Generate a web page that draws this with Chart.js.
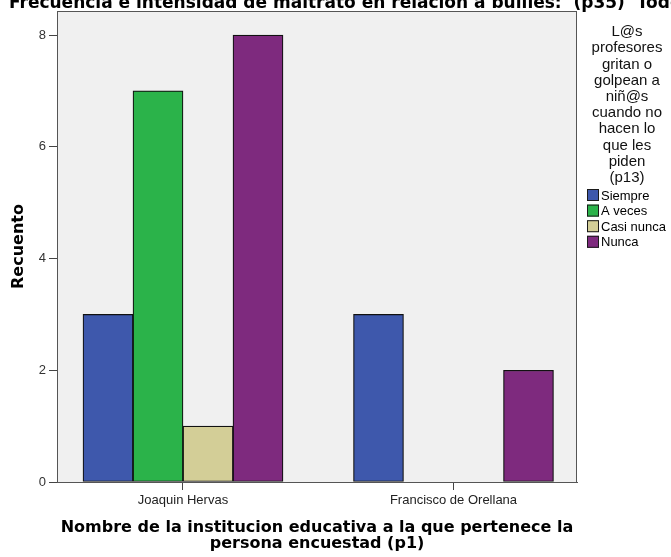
<!DOCTYPE html>
<html>
<head>
<meta charset="utf-8">
<script src="https://cdn.jsdelivr.net/npm/chart.js@4"></script>
<style>
  html, body { margin: 0; padding: 0; background: #fff; }
  #wrap { width: 671px; height: 557px; position: relative; }
</style>
</head>
<body>
<div id="wrap"><canvas id="chart"></canvas></div>
<script>
const chartTitle = 'Frecuencia e intensidad de maltrato en relación a bullies:  (p35)  Todos';
const categories = ['Joaquin Hervas', 'Francisco de Orellana'];
const seriesNames = ['Siempre', 'A veces', 'Casi nunca', 'Nunca'];
const siempre = [3, 3];
const aVeces = [7, 0];
const casiNunca = [1, 0];
const nunca = [8, 2];
const yTicks = [0, 2, 4, 6, 8];
const legendTitle = ['L@s', 'profesores', 'gritan o', 'golpean a', 'niñ@s', 'cuando no', 'hacen lo', 'que les', 'piden', '(p13)'];
const xTitle = ['Nombre de la institucion educativa a la que pertenece la', 'persona encuestad (p1)'];
const yTitle = 'Recuento';

const colors = ['#3e58ac', '#2bb34a', '#d3ce97', '#7e2a7e'];
const FONT = 'Arial, "Liberation Sans", sans-serif';
const BOLD = '"DejaVu Sans", Verdana, sans-serif';

// SPSS leaves empty groups blank, so zero counts become null
const toPoints = arr => arr.map((v, i) => ({ x: i, y: v === 0 ? null : v }));
const allSeries = [siempre, aVeces, casiNunca, nunca];

const datasets = allSeries.map((arr, k) => ({
  label: seriesNames[k],
  data: toPoints(arr),
  backgroundColor: colors[k],
  borderColor: '#111',
  borderWidth: 1.2,
  borderSkipped: false,
  barThickness: 50
}));

// plot frame + grey background
const framePlugin = {
  id: 'frame',
  beforeDatasetsDraw(chart) {
    const { ctx, chartArea: a } = chart;
    ctx.save();
    ctx.fillStyle = '#f0f0f0';
    ctx.fillRect(a.left, a.top, a.right - a.left, a.bottom - a.top);
    ctx.restore();
  },
  afterDatasetsDraw(chart) {
    const { ctx, chartArea: a } = chart;
    ctx.save();
    ctx.strokeStyle = '#555';
    ctx.lineWidth = 1;
    ctx.strokeRect(Math.round(a.left) + 0.5, Math.round(a.top) + 0.5,
      Math.round(a.right - a.left) - 1, Math.round(a.bottom - a.top));
    ctx.restore();
  }
};

// title (cut at the top as in the export) and the SPSS-style legend
const textPlugin = {
  id: 'texts',
  afterDraw(chart) {
    const { ctx } = chart;
    ctx.save();
    ctx.fillStyle = '#000';
    ctx.font = 'bold 17px ' + BOLD;
    ctx.textAlign = 'left';
    ctx.textBaseline = 'alphabetic';
    ctx.fillText(chartTitle, 9, 8);

    const cx = 627;
    ctx.fillStyle = '#111';
    ctx.font = '15px ' + FONT;
    ctx.textAlign = 'center';
    ctx.textBaseline = 'middle';
    legendTitle.forEach((t, i) => ctx.fillText(t, cx, 32 + i * 16.2));

    ctx.textAlign = 'left';
    ctx.font = '13px ' + FONT;
    chart.data.datasets.forEach((ds, i) => {
      const y = 195 + i * 15.6;
      ctx.fillStyle = ds.backgroundColor;
      ctx.fillRect(587, y - 6, 12, 12);
      ctx.strokeStyle = '#1a1a1a';
      ctx.strokeRect(587.5, y - 5.5, 11, 11);
      ctx.fillStyle = '#000';
      ctx.fillText(ds.label, 601, y + 1);
    });
    ctx.restore();
  }
};

new Chart(document.getElementById('chart'), {
  type: 'bar',
  data: { datasets },
  plugins: [framePlugin, textPlugin],
  options: {
    responsive: true,
    maintainAspectRatio: false,
    animation: false,
    layout: { padding: { top: 11, right: 94, bottom: 0, left: 0 } },
    plugins: {
      legend: { display: false },
      tooltip: { enabled: false }
    },
    scales: {
      x: {
        type: 'linear',
        offset: false,
        min: -0.4658,
        max: 1.4566,
        afterBuildTicks: scale => { scale.ticks = categories.map((c, i) => ({ value: i })); },
        afterFit: scale => { scale.height = 75; },
        ticks: {
          callback: v => categories[v],
          color: '#222',
          font: { family: FONT, size: 13 },
          padding: 3,
          maxRotation: 0
        },
        grid: { offset: false, drawOnChartArea: false, drawTicks: true, tickLength: 8, color: '#444' },
        border: { display: true, color: '#555' },
        title: {
          display: true,
          text: xTitle,
          color: '#000',
          font: { family: BOLD, size: 16, weight: 'bold', lineHeight: '16px' },
          padding: { top: 0, bottom: 5 }
        }
      },
      y: {
        min: 0,
        max: 8.43,
        afterBuildTicks: scale => { scale.ticks = yTicks.map(v => ({ value: v })); },
        afterFit: scale => { scale.width = 57; },
        ticks: {
          color: '#333',
          font: { family: FONT, size: 13 },
          padding: 3
        },
        grid: { drawOnChartArea: false, drawTicks: true, tickLength: 8, color: '#444' },
        border: { display: true, color: '#555' },
        title: {
          display: true,
          text: yTitle,
          color: '#000',
          font: { family: BOLD, size: 16, weight: 'bold' },
          padding: { top: 9, bottom: 0 }
        }
      }
    }
  }
});
</script>
</body>
</html>
